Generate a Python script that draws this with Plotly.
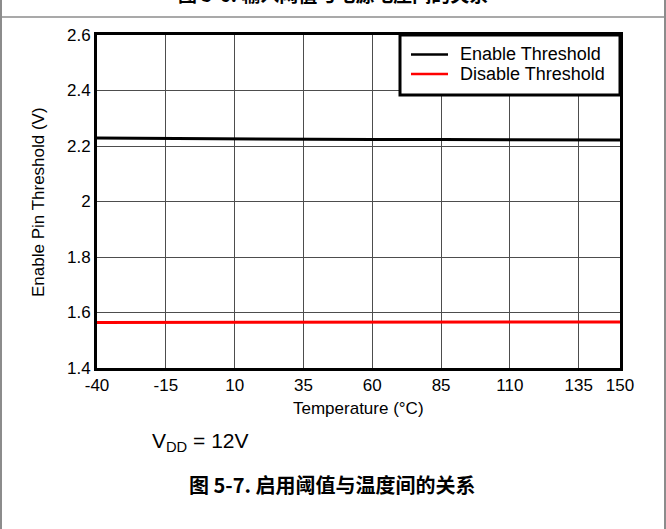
import plotly.graph_objects as go

# Temperature sweep (°C) and measured thresholds (V)
temperature = [-40, -15, 10, 35, 60, 85, 110, 135, 150]
enable_threshold = [2.229, 2.227, 2.225, 2.224, 2.223, 2.223, 2.222, 2.222, 2.222]
disable_threshold = [1.564, 1.564, 1.565, 1.565, 1.565, 1.565, 1.566, 1.566, 1.566]

series_names = ["Enable Threshold", "Disable Threshold"]
series_colors = ["black", "#ff0000"]

x_ticks = [-40, -15, 10, 35, 60, 85, 110, 135, 150]
y_ticks = [1.4, 1.6, 1.8, 2.0, 2.2, 2.4, 2.6]
y_tick_text = ["1.4", "1.6", "1.8", "2", "2.2", "2.4", "2.6"]

W, H = 666, 529
FONT = "Liberation Sans, Arial, sans-serif"
CJK = "Noto Sans CJK SC, sans-serif"

fig = go.Figure()
for name, color, values in zip(series_names, series_colors,
                               [enable_threshold, disable_threshold]):
    fig.add_trace(go.Scatter(x=temperature, y=values, mode="lines", name=name,
                             line=dict(color=color, width=3), showlegend=False))

# plot area in pixels
x0, x1 = 97, 620
y_top, y_bot = 35, 368

def px_x(p):
    return p / W

def px_y(p):
    return 1 - p / H

axis_common = dict(showline=True, linecolor="black", linewidth=3, mirror=True,
                   showgrid=True, gridcolor="#4d4d4d", gridwidth=1,
                   ticks="", zeroline=False, automargin=False,
                   tickfont=dict(family=FONT, size=17, color="black"))

fig.update_layout(
    width=W, height=H, autosize=False,
    margin=dict(l=0, r=0, t=0, b=0),
    paper_bgcolor="white", plot_bgcolor="white",
    xaxis=dict(domain=[px_x(x0), px_x(x1)], range=[-40, 150],
               tickmode="array", tickvals=x_ticks,
               ticktext=[str(v) for v in x_ticks],
               **axis_common),
    yaxis=dict(domain=[px_y(y_bot), px_y(y_top)], range=[1.4, 2.6],
               tickmode="array", tickvals=y_ticks, ticktext=y_tick_text,
               **axis_common),
    showlegend=False,
)

# compact boxed legend in the upper-right corner of the plot
fig.add_shape(type="rect", xref="paper", yref="paper",
              x0=px_x(400), x1=px_x(x1), y0=px_y(95), y1=px_y(y_top),
              line=dict(color="black", width=3), fillcolor="white", layer="above")
for i, (name, color) in enumerate(zip(series_names, series_colors)):
    row_y = 54.5 + 19.5 * i
    fig.add_shape(type="line", xref="paper", yref="paper",
                  x0=px_x(411), x1=px_x(448), y0=px_y(row_y), y1=px_y(row_y),
                  line=dict(color=color, width=2.5), layer="above")
    fig.add_annotation(xref="paper", yref="paper", x=px_x(458), y=px_y(row_y),
                       xanchor="left", yanchor="middle", showarrow=False,
                       text=name, font=dict(family=FONT, size=18, color="black"))

# axis titles
fig.add_annotation(xref="paper", yref="paper", x=px_x(358), y=px_y(408),
                   xanchor="center", yanchor="middle", showarrow=False,
                   text="Temperature (°C)",
                   font=dict(family=FONT, size=17, color="black"))
fig.add_annotation(xref="paper", yref="paper", x=px_x(38), y=px_y(202),
                   xanchor="center", yanchor="middle", showarrow=False,
                   textangle=-90, text="Enable Pin Threshold (V)",
                   font=dict(family=FONT, size=17, color="black"))

# page frame: side rules and the separator under the previous caption
frame = dict(color="#8c8c8c", width=2)
fig.add_shape(type="line", xref="paper", yref="paper", x0=px_x(1), x1=px_x(1), y0=0, y1=1, line=frame)
fig.add_shape(type="line", xref="paper", yref="paper", x0=px_x(W - 1), x1=px_x(W - 1), y0=0, y1=1, line=frame)
fig.add_shape(type="line", xref="paper", yref="paper", x0=0, x1=1,
              y0=px_y(17), y1=px_y(17), line=dict(color="#8c8c8c", width=1.5))

# previous figure caption, running off the top edge
fig.add_annotation(xref="paper", yref="paper", x=px_x(333), y=px_y(-6),
                   xanchor="center", yanchor="middle", showarrow=False,
                   text="<b>图 5-6. 输入阈值与电源电压间的关系</b>",
                   font=dict(family=CJK, size=19, color="black"))

# test condition
fig.add_annotation(xref="paper", yref="paper", x=px_x(150), y=px_y(442),
                   xanchor="left", yanchor="middle", showarrow=False,
                   text="V<sub>DD</sub> = 12V",
                   font=dict(family=FONT, size=21, color="black"))

# figure caption
fig.add_annotation(xref="paper", yref="paper", x=px_x(332), y=px_y(484),
                   xanchor="center", yanchor="middle", showarrow=False,
                   text="<b>图 5-7. 启用阈值与温度间的关系</b>",
                   font=dict(family=CJK, size=20, color="black"))

fig.write_html("out.html")
